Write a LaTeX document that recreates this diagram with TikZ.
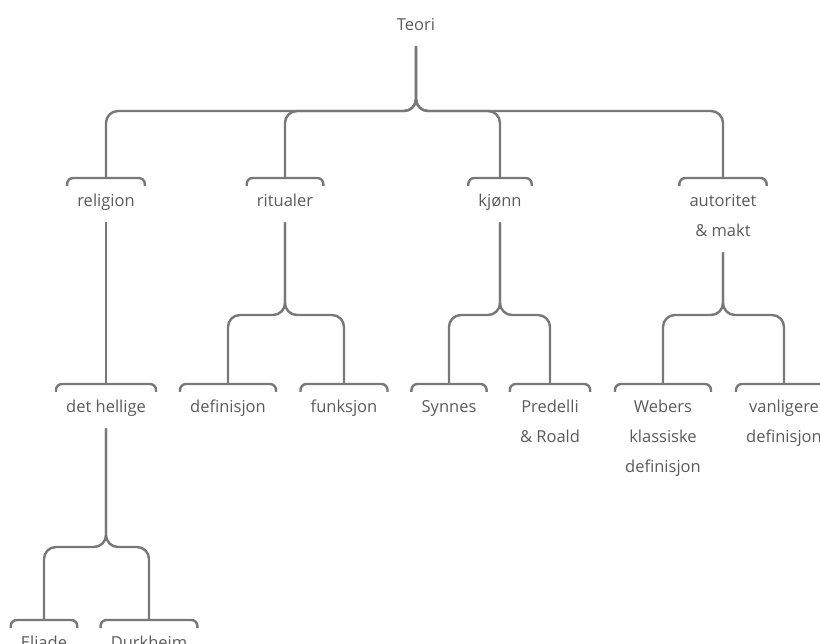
\documentclass[tikz,border=0pt]{standalone}
\usepackage{fontspec}
\setmainfont{Open Sans}
\definecolor{textgray}{HTML}{5A5A5A}
\definecolor{linegray}{HTML}{787878}
\tikzset{
  topic/.style={anchor=north, align=center, inner xsep=10pt, inner ysep=7pt,
    text=textgray, font=\fontsize{16.5}{30}\selectfont},
  link/.style={draw=linegray, line width=2.4pt, rounded corners=12pt},
  brace/.style={draw=linegray, line width=2.4pt, rounded corners=6pt},
}
\begin{document}
\begin{tikzpicture}[x=1pt,y=-1pt]
  \useasboundingbox (0,0) rectangle (820,644);
  \clip (0,0) rectangle (820,644);

  % junction rows of the three levels
  \coordinate (j0) at (0,111);
  \coordinate (j1) at (0,315);
  \coordinate (j2) at (0,547);

  % topics (struts keep first and last lines at a fixed height and depth)
  \node[topic] (teori)      at (416,2)   {\strut Teori\strut};
  \node[topic] (religion)   at (106,178) {\strut religion\strut};
  \node[topic] (ritualer)   at (285,178) {\strut ritualer\strut};
  \node[topic] (kjonn)      at (500,178) {\strut kjønn\strut};
  \node[topic] (makt)       at (723,178) {\strut autoritet\\\& makt\strut};
  \node[topic] (hellige)    at (106,384) {\strut det hellige\strut};
  \node[topic] (definisjon) at (228,384) {\strut definisjon\strut};
  \node[topic] (funksjon)   at (344,384) {\strut funksjon\strut};
  \node[topic] (synnes)     at (449,384) {\strut Synnes\strut};
  \node[topic] (predelli)   at (550,384) {\strut Predelli\\\& Roald\strut};
  \node[topic] (weber)      at (663,384) {\strut Webers\\klassiske\\definisjon\strut};
  \node[topic] (vanlig)     at (784,384) {\strut vanligere\\definisjon\strut};
  \node[topic] (eliade)     at (44,620)  {\strut Eliade\strut};
  \node[topic] (durkheim)   at (149,620) {\strut Durkheim\strut};

  % small brackets over each subtopic
  \foreach \n in {religion,ritualer,kjonn,makt,hellige,definisjon,funksjon,
                  synnes,predelli,weber,vanlig,eliade,durkheim}
    \draw[brace] ([yshift=-8pt]\n.north west) |- (\n.north) -| ([yshift=-8pt]\n.north east);

  % branches
  \foreach \c in {religion,ritualer,kjonn,makt}
    \draw[link] (teori.south) |- (\c.north |- j0) -- (\c.north);
  \foreach \c in {definisjon,funksjon}
    \draw[link] (ritualer.south) |- (\c.north |- j1) -- (\c.north);
  \foreach \c in {synnes,predelli}
    \draw[link] (kjonn.south) |- (\c.north |- j1) -- (\c.north);
  \foreach \c in {weber,vanlig}
    \draw[link] (makt.south) |- (\c.north |- j1) -- (\c.north);
  \draw[link] (religion.south) -- (hellige.north);
  \foreach \c in {eliade,durkheim}
    \draw[link] (hellige.south) |- (\c.north |- j2) -- (\c.north);
\end{tikzpicture}
\end{document}
